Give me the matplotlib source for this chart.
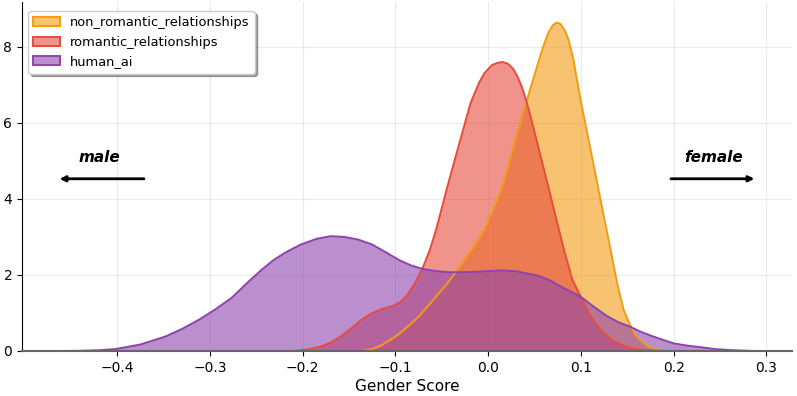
import matplotlib
matplotlib.use("Agg")
import matplotlib.pyplot as plt
from matplotlib.colors import to_rgba
from matplotlib.patches import Patch

# KDE curves (x = gender score, y = density)
non_rom_x = [-0.135, -0.125, -0.115, -0.105, -0.095, -0.085, -0.075, -0.059, -0.046,
             -0.033, -0.018, -0.004, 0.005, 0.014, 0.021, 0.028, 0.034, 0.040, 0.046,
             0.051, 0.056, 0.060, 0.065, 0.070, 0.074, 0.078, 0.083, 0.087, 0.092,
             0.096, 0.100, 0.105, 0.1104, 0.1176, 0.1247, 0.132, 0.139, 0.146, 0.153,
             0.158, 0.164, 0.172, 0.180, 0.190]
non_rom_y = [0.0, 0.05, 0.15, 0.3, 0.47, 0.68, 0.9, 1.35, 1.72,
             2.14, 2.65, 3.2, 3.7, 4.24, 4.8, 5.45, 5.95, 6.45, 6.95,
             7.35, 7.75, 8.05, 8.38, 8.58, 8.64, 8.6, 8.42, 8.15, 7.65,
             7.1, 6.55, 5.95, 5.29, 4.41, 3.53, 2.66, 1.78, 1.08, 0.68,
             0.45, 0.29, 0.13, 0.05, 0.0]

rom_x = [-0.21, -0.195, -0.18, -0.17, -0.159, -0.145, -0.137, -0.13, -0.122, -0.115,
         -0.108, -0.102, -0.094, -0.087, -0.079, -0.071, -0.063, -0.056, -0.044, -0.031,
         -0.019, -0.010, -0.004, 0.004, 0.010, 0.0155, 0.021, 0.027, 0.0316, 0.037,
         0.042, 0.048, 0.0548, 0.0639, 0.0728, 0.0817, 0.0908, 0.0997, 0.1086, 0.121,
         0.1355, 0.153, 0.170, 0.195]
rom_y = [0.0, 0.04, 0.12, 0.22, 0.38, 0.65, 0.81, 0.93, 1.03, 1.1,
         1.15, 1.19, 1.3, 1.48, 1.78, 2.16, 2.65, 3.2, 4.32, 5.47,
         6.52, 7.05, 7.31, 7.52, 7.58, 7.6, 7.56, 7.42, 7.22, 6.9,
         6.5, 5.95, 5.29, 4.41, 3.53, 2.66, 1.87, 1.43, 0.99, 0.55,
         0.25, 0.07, 0.02, 0.0]

hai_x = [-0.465, -0.44, -0.42, -0.402, -0.375, -0.348, -0.33, -0.312, -0.295, -0.277,
         -0.258, -0.245, -0.232, -0.22, -0.21, -0.202, -0.185, -0.170, -0.155, -0.140,
         -0.125, -0.112, -0.095, -0.083, -0.071, -0.056, -0.041, -0.015, 0.013, 0.030,
         0.046, 0.0567, 0.068, 0.078, 0.0997, 0.113, 0.128, 0.140, 0.153, 0.164,
         0.178, 0.190, 0.200, 0.215, 0.229, 0.245, 0.260, 0.275, 0.289]
hai_y = [0.0, 0.005, 0.02, 0.05, 0.17, 0.38, 0.58, 0.82, 1.08, 1.39,
         1.83, 2.12, 2.38, 2.57, 2.7, 2.80, 2.95, 3.02, 3.0, 2.93,
         2.8, 2.62, 2.38, 2.25, 2.16, 2.1, 2.07, 2.08, 2.12, 2.1,
         2.02, 1.96, 1.84, 1.7, 1.43, 1.18, 0.92, 0.76, 0.64, 0.51,
         0.38, 0.28, 0.2, 0.14, 0.1, 0.05, 0.025, 0.01, 0.0]

series = [
    ("non_romantic_relationships", non_rom_x, non_rom_y, "#f39c12"),
    ("romantic_relationships", rom_x, rom_y, "#e74c3c"),
    ("human_ai", hai_x, hai_y, "#8e44ad"),
]

fig = plt.figure(figsize=(7.97, 3.96), dpi=100)
ax = fig.add_axes([22 / 797, 1 - 351 / 396, 770 / 797, 349 / 396])

handles = []
for name, xs, ys, col in series:
    ax.fill_between(xs, ys, 0, facecolor=col, alpha=0.6, linewidth=0)
    ax.plot(xs, ys, color=col, lw=1.4, solid_joinstyle="round")
    handles.append(Patch(facecolor=to_rgba(col, 0.6), edgecolor=col, lw=1.4, label=name))

ax.set_xlim(-0.5025, 0.3275)
ax.set_ylim(0, 9.18)
ax.set_xticks([-0.4, -0.3, -0.2, -0.1, 0.0, 0.1, 0.2, 0.3])
ax.set_yticks([0, 2, 4, 6, 8])
ax.tick_params(labelsize=10)
ax.grid(True, color="#dddddd", alpha=0.6, lw=0.8)
ax.set_axisbelow(True)
ax.spines["top"].set_visible(False)
ax.spines["right"].set_visible(False)
ax.spines["bottom"].set_color("#666666")
ax.spines["bottom"].set_linewidth(1.5)
ax.set_xlabel("Gender Score", fontsize=11, labelpad=3)

ax.annotate("", xy=(-0.465, 4.53), xytext=(-0.368, 4.53),
            arrowprops=dict(arrowstyle="-|>", color="black", lw=2, mutation_scale=8))
ax.text(-0.419, 5.08, "male", fontsize=11, fontweight="bold", fontstyle="italic",
        ha="center", va="center")
ax.annotate("", xy=(0.29, 4.53), xytext=(0.194, 4.53),
            arrowprops=dict(arrowstyle="-|>", color="black", lw=2, mutation_scale=8))
ax.text(0.243, 5.08, "female", fontsize=11, fontweight="bold", fontstyle="italic",
        ha="center", va="center")

ax.legend(handles=handles, loc="upper left", fontsize=9.4, shadow=True,
          frameon=True, framealpha=1, borderaxespad=0.3,
          bbox_to_anchor=(0.003, 0.985))

fig.savefig("out.png", dpi=100)
